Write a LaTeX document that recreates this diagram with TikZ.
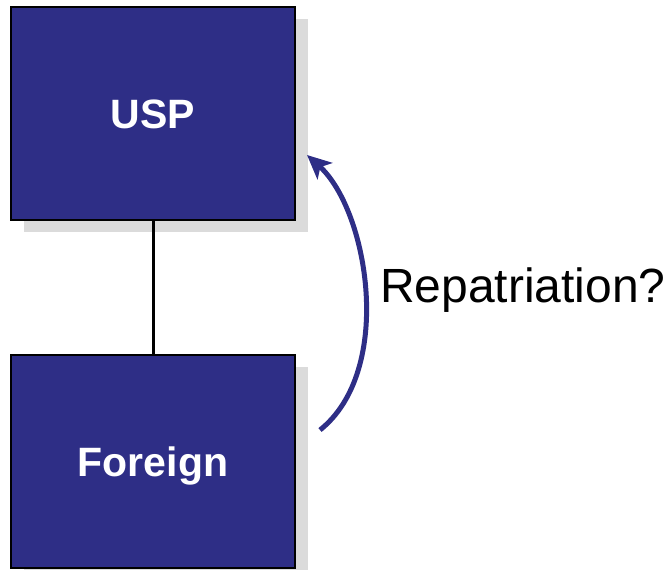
\documentclass[tikz,border=0pt]{standalone}
\usepackage{fontspec}
\setmainfont{Liberation Sans}
\usepackage{tikz}
\usetikzlibrary{positioning,shadows,arrows.meta}
\definecolor{boxblue}{RGB}{46,46,134}
\tikzstyle{ent}=[draw, line width=1.5pt, fill=boxblue, text=white, minimum height = 213pt, minimum width=284pt, text height=29pt, text depth=0pt, font=\fontsize{41}{48}\selectfont\bfseries, drop shadow={shadow xshift=13pt, shadow yshift=-12pt, fill=black!14, opacity=1}]

\begin{document}
\begin{tikzpicture}[x=1pt,y=-1pt,node distance=348pt,auto]
\useasboundingbox (0,0) rectangle (667,570);
  \node[ent] at (153,113.5) (usp) {USP};
  \node[ent, below of = usp] (foreign) {Foreign};
\draw[line width = 3pt] (usp) -- (foreign);

\coordinate (rstart) at (320,430);
\coordinate (rend) at (307,155);
\draw[-{Stealth[length=24pt,width=22pt,inset=6pt]}, line width = 5pt, boxblue] (rstart) .. controls (395,370) and (368,210) .. (rend);

\node[anchor=base west, inner sep=0pt, font=\fontsize{48}{56}\selectfont] at (380,302) (rep) {Repatriation?};
\end{tikzpicture}
\end{document}
